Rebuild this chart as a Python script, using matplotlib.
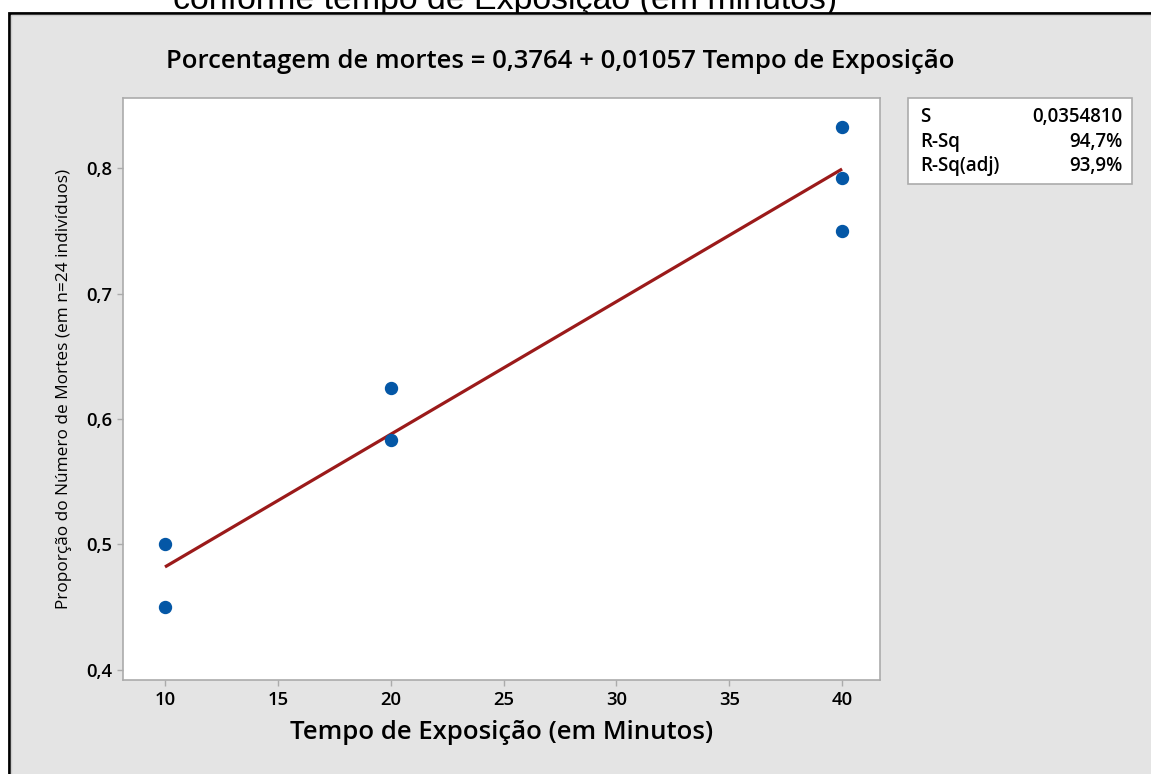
import matplotlib
matplotlib.use("Agg")
import matplotlib.pyplot as plt
from matplotlib.patches import Rectangle
import numpy as np

# ---- data ----
tempo = [10, 10, 20, 20, 40, 40, 40]
proporcao = [0.500, 0.450, 0.625, 0.583, 0.833, 0.792, 0.750]
intercept = 0.3764
slope = 0.01057
x_ticks = [10, 15, 20, 25, 30, 35, 40]
y_ticks = [0.4, 0.5, 0.6, 0.7, 0.8]
y_tick_labels = ["0,4", "0,5", "0,6", "0,7", "0,8"]
stats_labels = ["S", "R-Sq", "R-Sq(adj)"]
stats_values = ["0,0354810", "94,7%", "93,9%"]

W, H = 1151, 774
fig = plt.figure(figsize=(W / 100, H / 100), dpi=100)
fig.patch.set_facecolor("white")
FONT = "Open Sans"

def fx(px):
    return px / W

def fy(py):
    return 1 - py / H

# grey panel with black border
panel = Rectangle((fx(9), fy(H + 20)), fx(W + 20), (H + 20 - 13) / H,
                  transform=fig.transFigure, facecolor="#e4e4e4",
                  edgecolor="black", linewidth=2, zorder=-5)
fig.patches.append(panel)
inner = Rectangle((fx(11), fy(H + 20)), fx(W + 20), (H + 20 - 15) / H,
                  transform=fig.transFigure, facecolor="none",
                  edgecolor="#cdcdcd", linewidth=1, zorder=-4)
fig.patches.append(inner)

# cut-off header text at very top
fig.text(fx(505), fy(9), "conforme tempo de Exposição (em minutos)",
         family="Liberation Sans", fontsize=24.4, ha="center", va="baseline",
         color="black", zorder=-10)

ax = fig.add_axes([fx(123), fy(680), fx(880) - fx(123), fy(98) - fy(680)])
ax.set_zorder(1)
ax.set_facecolor("white")
ax.set_xlim(8.14, 41.68)
ax.set_ylim(0.392, 0.8558)

xl = np.array([min(tempo), max(tempo)], dtype=float)
ax.plot(xl, intercept + slope * xl, color="#9b1a1a", lw=2.3, zorder=2,
        solid_capstyle="butt")
ax.plot(tempo, proporcao, "o", color="#0457a6", ms=8.6, mec="#0457a6", zorder=3)

ax.set_xticks(x_ticks)
ax.set_xticklabels([str(t) for t in x_ticks])
ax.set_yticks(y_ticks)
ax.set_yticklabels(y_tick_labels)
for s in ax.spines.values():
    s.set_color("#ababab")
    s.set_linewidth(1.2)
ax.tick_params(direction="out", length=4, width=1, color="#ababab",
               labelsize=13.3, pad=4)
for lab in ax.get_xticklabels() + ax.get_yticklabels():
    lab.set_family(FONT)
    lab.set_fontweight("semibold")

ax.set_xlabel("Tempo de Exposição (em Minutos)", family=FONT, fontweight="semibold",
              fontsize=18.5, labelpad=8)
ax.set_ylabel("Proporção do Número de Mortes (em n=24 indivíduos)", family=FONT,
              fontweight="medium", fontsize=12.4, labelpad=10)

fig.text(fx(560), fy(62), "Porcentagem de mortes = 0,3764 + 0,01057 Tempo de Exposição",
         family=FONT, fontweight="semibold", fontsize=18.5, ha="center", va="center")

# stats box
box = Rectangle((fx(908), fy(184)), fx(1132) - fx(908), fy(98) - fy(184),
                transform=fig.transFigure, facecolor="white", edgecolor="#ababab",
                linewidth=1.2, zorder=1)
fig.patches.append(box)
for i, (lab, val) in enumerate(zip(stats_labels, stats_values)):
    yy = fy(117 + i * 24.5)
    fig.text(fx(920), yy, lab, family=FONT, fontweight="semibold", fontsize=13.5,
             ha="left", va="center", zorder=2)
    fig.text(fx(1122), yy, val, family=FONT, fontweight="semibold", fontsize=13.5,
             ha="right", va="center", zorder=2)

fig.savefig("out.png", dpi=100)
